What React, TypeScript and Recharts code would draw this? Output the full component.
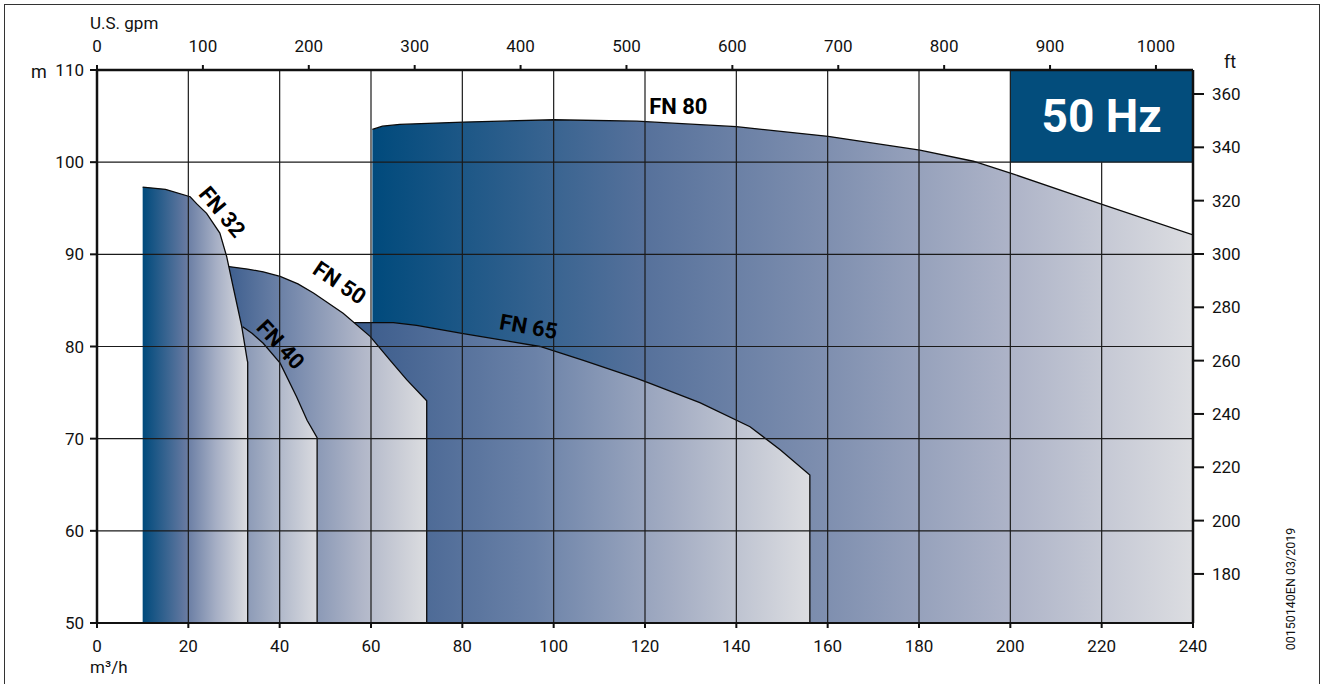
import React from 'react';
import {
  ComposedChart,
  Area,
  XAxis,
  YAxis,
  ReferenceLine,
  ReferenceArea,
  ReferenceDot,
} from 'recharts';

// axis ticks
const flowTicks = [0, 20, 40, 60, 80, 100, 120, 140, 160, 180, 200, 220, 240];
const gpmTicks = [0, 100, 200, 300, 400, 500, 600, 700, 800, 900, 1000];
const headTicks = [50, 60, 70, 80, 90, 100, 110];
const feetTicks = [180, 200, 220, 240, 260, 280, 300, 320, 340, 360];

// pump envelopes, flow in m3/h and head in m
const fn80Q = [60.3, 62.5, 66.3, 80.2, 100, 118.2, 140, 160.1, 180.2, 191.9, 200.7, 219.6, 240];
const fn80H = [103.55, 103.9, 104.1, 104.35, 104.6, 104.45, 103.85, 102.8, 101.3, 100.1, 98.7, 95.5, 92.1];

const fn65Q = [56, 60.4, 64.9, 70, 80.2, 97, 106.5, 118.2, 121.1, 132, 143, 149.6, 156.1, 156.1];
const fn65H = [82.6, 82.6, 82.6, 82.3, 81.4, 80.0, 78.5, 76.55, 76.0, 73.9, 71.3, 68.8, 66.05, 50];

const fn50Q = [28.5, 33, 36.4, 40.1, 44, 47.4, 53.9, 59.8, 64.2, 67.8, 72.2, 72.2];
const fn50H = [88.7, 88.4, 88.1, 87.6, 86.8, 85.8, 83.6, 81.1, 78.5, 76.4, 74.1, 50];

const fn40Q = [31.9, 34, 36.4, 40.1, 43.7, 46, 48.2, 48.2];
const fn40H = [82.15, 81.4, 80.35, 78.2, 74.55, 72, 70.1, 50];

const fn32Q = [10, 15, 20.4, 21.8, 24, 26.9, 28.4, 29.8, 31.7, 32.9, 33, 33];
const fn32H = [97.3, 97.05, 96.25, 95.5, 94.45, 92.3, 89.75, 86.5, 82.15, 78.5, 78.3, 50];

// curve labels
const labelNames = ['FN 32', 'FN 40', 'FN 50', 'FN 65', 'FN 80'];
const labelQ = [27.4, 40.2, 53.1, 94.5, 127.3];
const labelH = [94.6, 80.2, 86.9, 82.15, 106.0];
const labelAngle = [50, 47, 34, 10, 0];

const toPoints = (q: number[], h: number[]) => q.map((v, i) => ({ q: v, h: h[i] }));

type Stop = [number, string];

const series: { id: string; points: { q: number; h: number }[]; stops: Stop[] }[] = [
  {
    id: 'fn80',
    points: toPoints(fn80Q, fn80H),
    stops: [[0, '#004a7c'], [0.33, '#56719b'], [0.56, '#8090b0'], [0.78, '#aeb4c8'], [1, '#dcdde1']],
  },
  {
    id: 'fn65',
    points: toPoints(fn65Q, fn65H),
    stops: [[0, '#3a5b8b'], [0.4, '#6b82a8'], [0.7, '#a4adc3'], [1, '#dcdde1']],
  },
  {
    id: 'fn50',
    points: toPoints(fn50Q, fn50H),
    stops: [[0, '#3d5e8e'], [0.35, '#7a8cae'], [0.67, '#b0b6c8'], [1, '#dcdde0']],
  },
  {
    id: 'fn40',
    points: toPoints(fn40Q, fn40H),
    stops: [[0, '#8796b4'], [1, '#dadbe0']],
  },
  {
    id: 'fn32',
    points: toPoints(fn32Q, fn32H),
    stops: [[0, '#004a7c'], [0.4, '#6378a0'], [0.7, '#a6afc5'], [1, '#dcdde1']],
  },
];

const FONT = 'Roboto, "Open Sans", sans-serif';
const INK = '#111';

const makeLabel = (text: string, angle: number) => (props: any) => {
  const { cx, cy } = props;
  if (cx == null || cy == null) return <g />;
  return (
    <text
      x={cx}
      y={cy}
      transform={`rotate(${angle} ${cx} ${cy})`}
      textAnchor="middle"
      dominantBaseline="central"
      fontFamily={FONT}
      fontWeight={700}
      fontSize={22}
      fill="#000"
    >
      {text}
    </text>
  );
};

export default function App() {
  const axisLine = { stroke: INK, strokeWidth: 2.5 };
  const tickLine = { stroke: INK, strokeWidth: 2 };
  const tickStyle = { fontSize: 17, fill: INK, fontFamily: FONT };

  return (
    <div style={{ position: 'relative', width: 1322, height: 684, overflow: 'hidden', background: '#fff' }}>
      <style>{'body{margin:0}'}</style>
      <div
        style={{
          position: 'absolute',
          left: 4,
          top: 4,
          width: 1316,
          height: 700,
          border: '1.5px solid #333',
          boxSizing: 'border-box',
        }}
      />
      <ComposedChart
        width={1322}
        height={684}
        margin={{ top: 0, right: 0, bottom: 0, left: 0 }}
        style={{ position: 'absolute', left: 0, top: 0, fontFamily: FONT }}
      >
        <defs>
          {series.map((s) => (
            <linearGradient key={s.id} id={`grad-${s.id}`} x1="0" y1="0" x2="1" y2="0">
              {s.stops.map(([o, c]) => (
                <stop key={o} offset={o} stopColor={c} />
              ))}
            </linearGradient>
          ))}
        </defs>

        <XAxis
          xAxisId="m3"
          dataKey="q"
          type="number"
          orientation="bottom"
          domain={[0, 240]}
          ticks={flowTicks}
          allowDataOverflow
          height={61}
          tickSize={5}
          tickMargin={12}
          axisLine={{ stroke: INK, strokeWidth: 2 }}
          tickLine={tickLine}
          tick={tickStyle}
          interval={0}
        />
        <XAxis
          xAxisId="gpm"
          dataKey="q"
          type="number"
          orientation="top"
          domain={[0, 1035]}
          ticks={gpmTicks}
          allowDataOverflow
          height={70}
          tickSize={5}
          tickMargin={13}
          axisLine={axisLine}
          tickLine={tickLine}
          tick={tickStyle}
          interval={0}
        />
        <YAxis
          yAxisId="m"
          type="number"
          orientation="left"
          domain={[50, 110]}
          ticks={headTicks}
          allowDataOverflow
          width={97}
          tickSize={7}
          tickMargin={6}
          axisLine={axisLine}
          tickLine={tickLine}
          tick={tickStyle}
          interval={0}
        />
        <YAxis
          yAxisId="ft"
          type="number"
          orientation="right"
          domain={[161.6, 369]}
          ticks={feetTicks}
          allowDataOverflow
          width={129}
          tickSize={11}
          tickMargin={8}
          axisLine={axisLine}
          tickLine={tickLine}
          tick={tickStyle}
          interval={0}
        />

        {series.map((s) => (
          <Area
            key={s.id}
            xAxisId="m3"
            yAxisId="m"
            data={s.points}
            dataKey="h"
            type="linear"
            baseValue={50}
            fill={`url(#grad-${s.id})`}
            fillOpacity={1}
            stroke="#0a0a0a"
            strokeWidth={1.3}
            dot={false}
            activeDot={false}
            isAnimationActive={false}
          />
        ))}

        {flowTicks.slice(1, -1).map((q) => (
          <ReferenceLine
            key={`vq-${q}`}
            xAxisId="m3"
            yAxisId="m"
            segment={[{ x: q, y: 50 }, { x: q, y: q > 200 ? 100 : 110 }]}
            stroke="#1a1a1a"
            strokeWidth={1.2}
          />
        ))}
        {headTicks.slice(1, -1).map((h) => (
          <ReferenceLine
            key={`hh-${h}`}
            xAxisId="m3"
            yAxisId="m"
            y={h}
            stroke="#1a1a1a"
            strokeWidth={1.2}
          />
        ))}

        <ReferenceArea
          xAxisId="m3"
          yAxisId="m"
          x1={200}
          x2={240}
          y1={100}
          y2={110}
          fill="#034d7c"
          fillOpacity={1}
          stroke="none"
          label={{
            value: '50 Hz',
            position: 'center',
            fill: '#fff',
            fontSize: 46,
            fontWeight: 700,
            fontFamily: FONT,
          }}
        />

        {labelNames.map((name, i) => (
          <ReferenceDot
            key={name}
            xAxisId="m3"
            yAxisId="m"
            x={labelQ[i]}
            y={labelH[i]}
            r={0}
            shape={makeLabel(name, labelAngle[i])}
          />
        ))}
      </ComposedChart>

      <svg
        width={1322}
        height={684}
        style={{ position: 'absolute', left: 0, top: 0, pointerEvents: 'none' }}
        fontFamily={FONT}
        fill={INK}
      >
        <text x={90} y={29} fontSize={17}>U.S. gpm</text>
        <text x={31} y={78} fontSize={18}>m</text>
        <text x={1224} y={68} fontSize={18}>ft</text>
        <text x={90} y={673} fontSize={17}>m³/h</text>
        <text x={1295} y={589} fontSize={12.5} textAnchor="middle" transform="rotate(-90 1295 589)">
          00150140EN 03/2019
        </text>
      </svg>
    </div>
  );
}
